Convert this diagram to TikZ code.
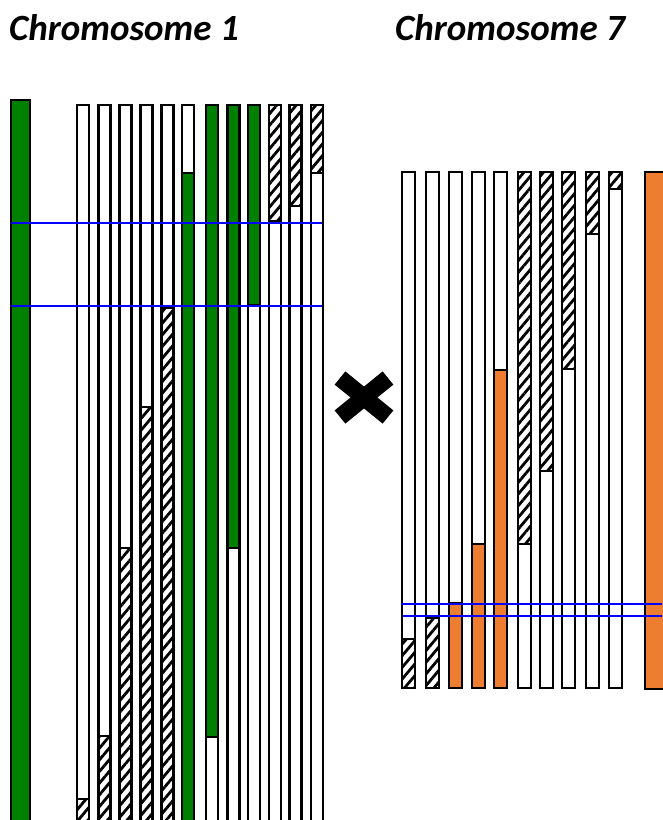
\documentclass[tikz,border=0pt]{standalone}
\usepackage{fontspec}
\setmainfont{Carlito}
\usepackage{tikz}
\usetikzlibrary{patterns.meta}
\definecolor{chrgreen}{RGB}{0,128,0}
\definecolor{chrorange}{RGB}{237,125,49}
\tikzset{
  blank/.style={fill=white},
  grn/.style={fill=chrgreen},
  orng/.style={fill=chrorange},
  hatch/.style={fill=white, pattern={Lines[angle=50, distance=7.5pt, line width=2.8pt]}},
  chrline/.style={draw=black, line width=2.8pt},
  cutline/.style={draw=blue, line width=2pt},
  title/.style={font=\fontsize{37}{44}\selectfont\bfseries\itshape, inner sep=0pt, anchor=base west},
}

\begin{document}
\begin{tikzpicture}[x=1pt,y=-1pt]
  \useasboundingbox (0,0) rectangle (662,820);
  \node[title] (t1) at (9,40) {Chromosome 1};
  \node[title] (t7) at (395,40) {Chromosome 7};
  % chromosome 1
  \fill[grn] (11,100) rectangle (30,830);
  \draw[chrline] (11,100) rectangle (30,830);
  \foreach \x/\s/\a/\b in {77/799/blank/hatch, 98.5/736/blank/hatch, 119.5/548/blank/hatch,
      140.5/407/blank/hatch, 161.5/308/blank/hatch, 182/173/blank/grn,
      206/737/grn/blank, 227.5/548/grn/blank, 248/305/grn/blank,
      269/221/hatch/blank, 289.5/206/hatch/blank, 311/173/hatch/blank} {
    \fill[\a] (\x,105) rectangle (\x+12,\s);
    \fill[\b] (\x,\s) rectangle (\x+12,830);
    \draw[chrline] (\x,\s) -- (\x+12,\s);
    \draw[chrline] (\x,105) rectangle (\x+12,830);
  }
  \draw[cutline] (11,223) -- (322,223);
  \draw[cutline] (11,306) -- (322,306);
  % cross
  \draw[line width=17pt] (340,378) -- (388,417);
  \draw[line width=17pt] (340,417) -- (388,378);
  % chromosome 7
  \foreach \x/\s/\a/\b in {402/639/blank/hatch, 426/618/blank/hatch, 449/603/blank/orng,
      472/544/blank/orng, 494/370/blank/orng, 518/544/hatch/blank,
      540/471/hatch/blank, 562/369/hatch/blank, 586/234/hatch/blank, 609/189/hatch/blank} {
    \fill[\a] (\x,172) rectangle (\x+13,\s);
    \fill[\b] (\x,\s) rectangle (\x+13,688);
    \draw[chrline] (\x,\s) -- (\x+13,\s);
    \draw[chrline] (\x,172) rectangle (\x+13,688);
  }
  \fill[orng] (645,172) rectangle (680,689);
  \draw[chrline] (645,172) rectangle (680,689);
  \draw[cutline] (401,604) -- (662,604);
  \draw[cutline] (403,616) -- (662,616);
\end{tikzpicture}
\end{document}
